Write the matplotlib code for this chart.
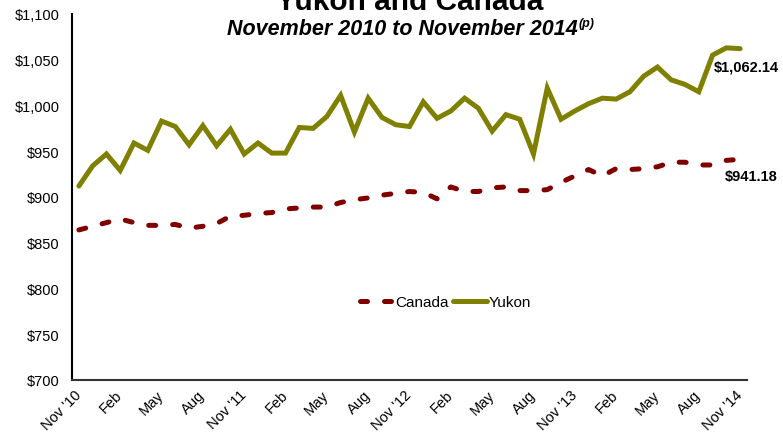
import matplotlib
matplotlib.use("Agg")
import matplotlib.pyplot as plt
import numpy as np

plt.rcParams['font.family'] = ['Liberation Sans', 'DejaVu Sans']

# monthly average weekly earnings, Nov 2010 .. Nov 2014
yukon = [912, 934, 947, 929, 959, 951, 983, 977, 957, 978, 956, 974,
         947, 959, 948, 948, 976, 975, 988, 1011, 971, 1008, 987, 979,
         977, 1004, 986, 994, 1008, 997, 972, 990, 985, 947, 1019, 985,
         994, 1002, 1008, 1007, 1015, 1032, 1042, 1028, 1023, 1015, 1055, 1063,
         1062.14]
canada = [864, 868, 872, 876, 872, 869, 869, 870, 866, 868, 871, 879,
          880, 882, 883, 887, 888, 889, 889, 894, 897, 899, 902, 904,
          906, 905, 898, 911, 906, 906, 910, 911, 907, 907, 908, 916,
          923, 930, 923, 931, 930, 931, 933, 938, 938, 935, 935, 940,
          941.18]
tick_labels = ["Nov '10", "Feb", "May", "Aug", "Nov '11", "Feb", "May", "Aug",
               "Nov '12", "Feb", "May", "Aug", "Nov '13", "Feb", "May", "Aug",
               "Nov '14"]
yticks = [700, 750, 800, 850, 900, 950, 1000, 1050, 1100]

W, H = 783, 435
fig = plt.figure(figsize=(W / 100, H / 100), dpi=100)
ax = fig.add_axes([72 / W, 54 / H, (747 - 72) / W, (381 - 15) / H])

x = np.arange(len(yukon))
ax.plot(x, canada, color='#800000', lw=3.6, dashes=(1.4, 3.4),
        dash_capstyle='round', label='Canada')
ax.plot(x, yukon, color='#808000', lw=3.6, solid_capstyle='round',
        solid_joinstyle='miter', label='Yukon')

ax.set_xlim(-0.5, len(yukon) - 0.5)
ax.set_ylim(700, 1100)
ax.set_yticks(yticks)
ax.set_yticklabels([f"${v:,}" for v in yticks], fontsize=10.5)
ax.set_xticks(x[::3])
ax.set_xticklabels(tick_labels, fontsize=10.5, rotation=45, ha='right',
                   va='center', rotation_mode='anchor')
ax.tick_params(axis='y', length=0, pad=9)
ax.tick_params(axis='x', length=0, pad=9)

for s in ['top', 'right']:
    ax.spines[s].set_visible(False)
ax.spines['left'].set_linewidth(1.5)
ax.spines['bottom'].set_linewidth(1.5)
ax.spines['bottom'].set_color('#333333')

ax.legend(loc='center', bbox_to_anchor=(0.553, 0.213), ncol=2, frameon=False,
          fontsize=11, handlelength=2.2, handletextpad=0.1, columnspacing=0.3)

ax.annotate(f"${yukon[-1]:,.2f}", xy=(x[-1], yukon[-1]), xytext=(28, -13),
            textcoords='offset points', ha='right', va='center',
            fontsize=10.5, fontweight='bold')
ax.annotate(f"${canada[-1]:,.2f}", xy=(x[-1], canada[-1]), xytext=(27, -12),
            textcoords='offset points', ha='right', va='center',
            fontsize=10.5, fontweight='bold')

# titles (main title runs off the top edge like the original)
fig.text(410 / W, 1 - 10 / H, "Yukon and Canada", ha='center',
         va='baseline', fontsize=21.5, fontweight='bold')
fig.text(578 / W, 1 - 35 / H, "November 2010 to November 2014", ha='right',
         va='baseline', fontsize=15.5, fontweight='bold', style='italic')
fig.text(579 / W, 1 - 27 / H, "(p)", ha='left', va='baseline',
         fontsize=9, fontweight='bold', style='italic')

fig.savefig("out.png", dpi=100)
